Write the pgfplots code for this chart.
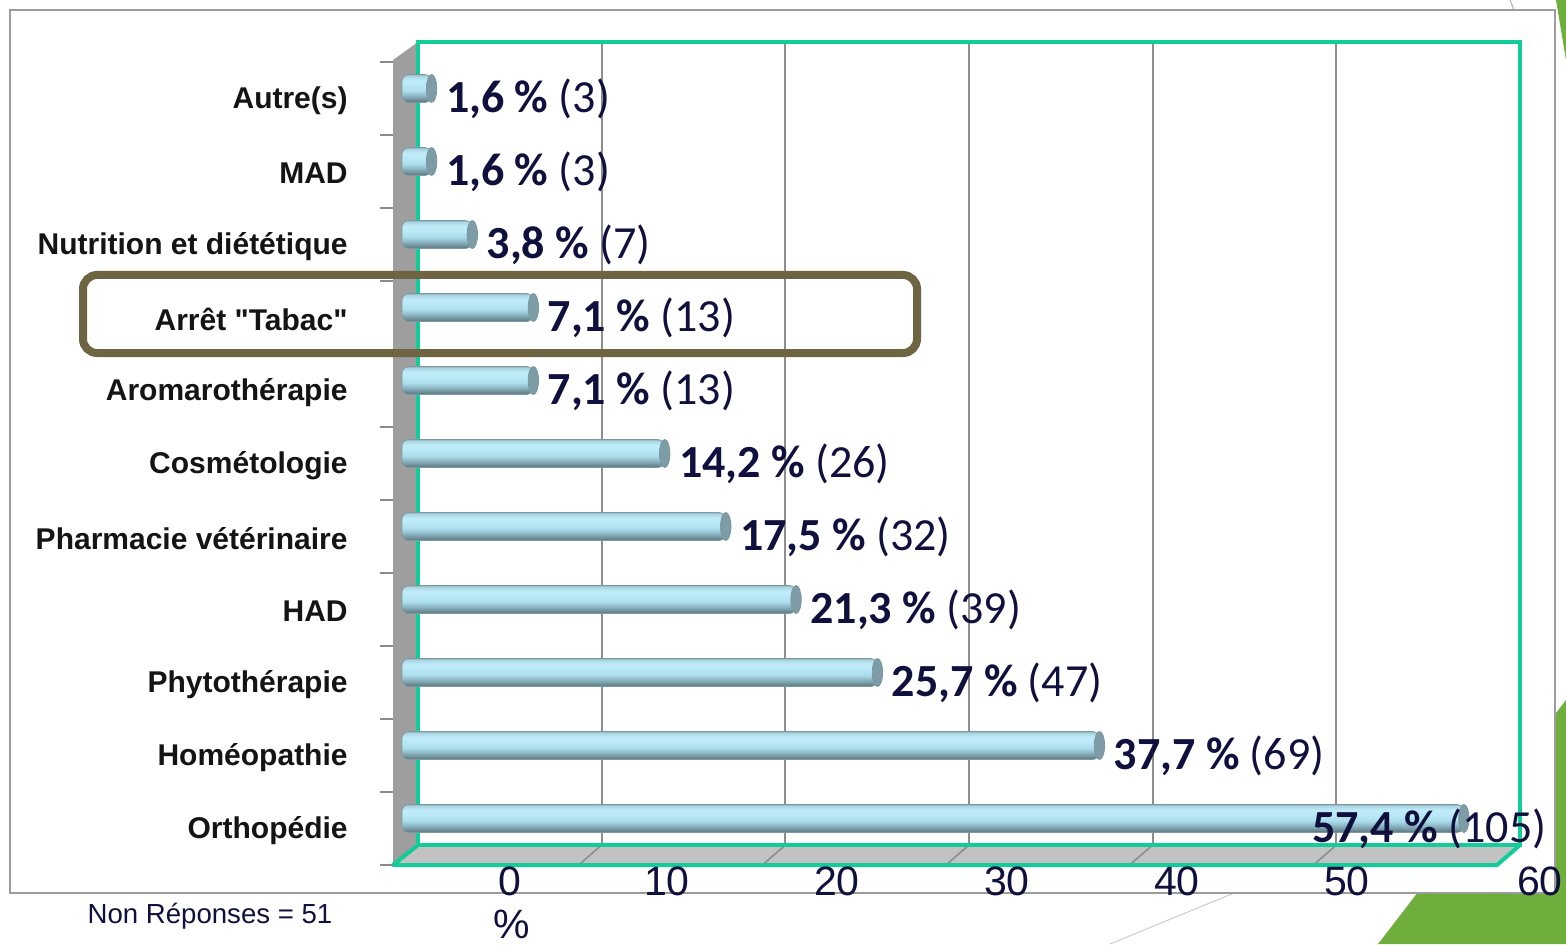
\documentclass[border=0pt]{standalone}
\usepackage{pgfplots}
\pgfplotsset{compat=1.18}
\usepackage{fontspec}
\setmainfont{Liberation Sans}
\newfontfamily\plainarial[Ligatures=TeXOff]{Liberation Sans}
\newfontfamily\calibri{Carlito}
\definecolor{grn}{HTML}{12CD9A}
\definecolor{navy}{HTML}{10103E}
\definecolor{olivebox}{HTML}{6E6442}
\definecolor{leaf}{HTML}{6DAE3C}
\definecolor{framec}{HTML}{9C9C9C}
\definecolor{wallc}{HTML}{9E9E9E}
\definecolor{floorc}{HTML}{C2C2C2}
\definecolor{gridc}{HTML}{8E8E8E}
\definecolor{tickc}{HTML}{8A8A8A}
\definecolor{labc}{HTML}{141414}
\definecolor{bared}{HTML}{7C98A0}
\definecolor{capc}{HTML}{7E9CA6}
\definecolor{c1}{HTML}{58727A}
\definecolor{c2}{HTML}{6F8F99}
\definecolor{c3}{HTML}{8FBAC7}
\definecolor{c4}{HTML}{ACDDEB}
\definecolor{c5}{HTML}{B8E8F6}
\definecolor{c6}{HTML}{C0ECF9}
\definecolor{c7}{HTML}{ACD8E6}
\definecolor{c8}{HTML}{92B2BC}
\pgfdeclareverticalshading{cyl}{100bp}{color(0bp)=(c1); color(25bp)=(c1); color(30bp)=(c2); color(38bp)=(c3); color(46bp)=(c4); color(55bp)=(c5); color(65bp)=(c6); color(72bp)=(c7); color(75bp)=(c8); color(100bp)=(c8)}
\pgfdeclareplotmark{cap}{\pgfpathellipse{\pgfpointorigin}{\pgfpoint{2.6pt}{0pt}}{\pgfpoint{0pt}{7pt}}\pgfusepathqfillstroke}
\pgfplotsset{cylbar/.style={xbar, bar width=14pt, bar shift=0pt, draw=bared, line width=0.3pt, shade, shading=cyl, rounded corners=3.5pt}}
\begin{document}
\begin{tikzpicture}
\useasboundingbox (0,0) rectangle (783pt,472pt);
% decorations
\fill[leaf] (689pt,0pt) -- (783pt,122pt) -- (783pt,0pt) -- cycle;
\fill[leaf] (778pt,472pt) -- (783pt,472pt) -- (783pt,442pt) -- cycle;
\draw[gray!60, line width=0.5pt] (755pt,472pt) -- (757pt,467pt);
\draw[gray!40, line width=0.5pt] (555pt,0pt) -- (617pt,25.5pt);
\filldraw[fill=white, draw=framec, line width=0.8pt] (5pt,25.5pt) rectangle (777.5pt,467pt);
% left wall and floor
\fill[wallc] (196.5pt,39.5pt) -- (196.5pt,442pt) -- (209pt,451pt) -- (209pt,49.5pt) -- cycle;
\fill[floorc] (196.5pt,39.5pt) -- (209pt,49.5pt) -- (760pt,49.5pt) -- (748.5pt,39.5pt) -- cycle;
\foreach \b/\f in {300.8/289.3, 392.7/381.2, 484.5/473.0, 576.3/564.8, 668.2/656.7}
  \draw[gridc, line width=0.8pt] (\b pt,49.5pt) -- (\f pt,39.5pt);
\draw[grn, line width=2pt, line join=round] (209pt,49.5pt) -- (196.5pt,39.5pt) -- (748.5pt,39.5pt) -- (760pt,49.5pt);
% back wall
\begin{axis}[at={(209pt,49.5pt)}, anchor=south west, scale only axis,
  width=551pt, height=401.5pt, xmin=0, xmax=60, ymin=0, ymax=1,
  xtick={10,20,...,50}, xticklabels={}, ytick=\empty, xmajorgrids,
  grid style={draw=gridc, line width=1pt}, major tick length=0pt,
  axis line style={draw=grn, line width=2pt}]
\end{axis}
% front plane: category labels and tick marks
\begin{axis}[at={(196.5pt,39.5pt)}, anchor=south west, scale only axis,
  width=552pt, height=401.5pt, xmin=0, xmax=60, ymin=-0.5, ymax=10.5,
  axis x line=none, axis y line*=left, y axis line style={draw=none},
  ytick={0,...,10},
  yticklabels={Orthopédie,Homéopathie,Phytothérapie,HAD,Pharmacie vétérinaire,Cosmétologie,Aromarothérapie,{\plainarial Arrêt "Tabac"},Nutrition et diététique,MAD,Autre(s)},
  major tick length=0pt,
  minor ytick={-0.5,0.5,...,10.5}, minor tick length=6.5pt, tick align=outside,
  minor tick style={draw=tickc, line width=0.8pt},
  yticklabel style={font=\bfseries\fontsize{15}{18}\selectfont, text=labc, anchor=east, inner sep=0pt, xshift=-22.5pt, yshift=-1pt}]
\end{axis}
% bars
\begin{axis}[at={(201pt,44.5pt)}, anchor=south west, scale only axis,
  width=555pt, height=401.5pt, xmin=0, xmax=60, ymin=-0.5, ymax=10.5,
  hide axis, clip=false]
\addplot[cylbar] coordinates {(57.4,0)};
\addplot[cylbar] coordinates {(37.7,1)};
\addplot[cylbar] coordinates {(25.7,2)};
\addplot[cylbar] coordinates {(21.3,3)};
\addplot[cylbar] coordinates {(17.5,4)};
\addplot[cylbar] coordinates {(14.2,5)};
\addplot[cylbar] coordinates {(7.1,6)};
\addplot[cylbar] coordinates {(7.1,7)};
\addplot[cylbar] coordinates {(3.8,8)};
\addplot[cylbar] coordinates {(1.6,9)};
\addplot[cylbar] coordinates {(1.6,10)};
\addplot[only marks, mark=cap, mark options={fill=capc, draw=bared, line width=0.4pt},
  nodes near coords, point meta=explicit symbolic,
  every node near coord/.append style={font=\calibri\fontsize{23}{26}\selectfont, text=navy, anchor=base west, inner sep=0pt, xshift=7pt, yshift=-12pt}]
  coordinates {(37.7,1) [\textbf{37,7 \%} (69)] (25.7,2) [\textbf{25,7 \%} (47)] (21.3,3) [\textbf{21,3 \%} (39)] (17.5,4) [\textbf{17,5 \%} (32)] (14.2,5) [\textbf{14,2 \%} (26)] (7.1,6) [\textbf{7,1 \%} (13)] (7.1,7) [\textbf{7,1 \%} (13)] (3.8,8) [\textbf{3,8 \%} (7)] (1.6,9) [\textbf{1,6 \%} (3)] (1.6,10) [\textbf{1,6 \%} (3)]};
\addplot[only marks, mark=cap, mark options={fill=capc, draw=bared, line width=0.4pt},
  nodes near coords, point meta=explicit symbolic,
  every node near coord/.append style={font=\calibri\fontsize{23}{26}\selectfont, text=navy, anchor=base west, inner sep=0pt, xshift=-76pt, yshift=-12pt}]
  coordinates {(57.4,0) [\textbf{57,4 \%} (105)]};
\end{axis}
% x tick labels (as placed in the original)
\begin{axis}[at={(0pt,24.5pt)}, anchor=south west, scale only axis,
  width=783pt, height=10pt, xmin=0, xmax=1566, ymin=0, ymax=1,
  axis line style={draw=none}, major tick length=0pt, ytick=\empty,
  xtick={522,690,860,1030,1200,1370,1563}, xticklabels={0,10,20,30,40,50,60},
  xticklabel style={font=\fontsize{20.5}{24}\selectfont, text=navy, anchor=base east, inner sep=0pt}]
\end{axis}
\node[anchor=base, inner sep=0pt, font=\fontsize{20.5}{24}\selectfont, text=navy] at (256pt,3pt) {\%};
\node[anchor=base, inner sep=0pt, font=\fontsize{13.8}{16}\selectfont, text=navy] at (105pt,10.5pt) {Non Réponses = 51};
% highlight box
\draw[olivebox, line width=4pt, rounded corners=7pt] (41.5pt,295.5pt) rectangle (458.5pt,334.5pt);
\end{tikzpicture}
\end{document}
